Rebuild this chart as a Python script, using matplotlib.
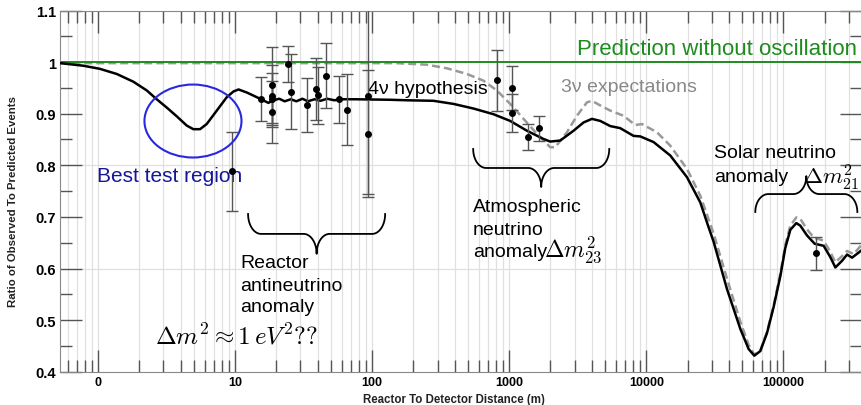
import numpy as np
import matplotlib
matplotlib.use("Agg")
import matplotlib.pyplot as plt
from matplotlib.patches import Ellipse
from matplotlib.lines import Line2D
from matplotlib.transforms import IdentityTransform
from matplotlib.ticker import LogLocator, MultipleLocator, NullFormatter

plt.rcParams['font.family'] = ['Liberation Sans', 'DejaVu Sans']
plt.rcParams['mathtext.fontset'] = 'cm'

# 4 neutrino hypothesis (distance in m, ratio observed/predicted)
dist_4nu = [0.53, 0.78, 1.03, 1.37, 1.81, 2.27, 2.68, 3.17, 3.75, 4.44,
            4.96, 5.55, 6.21, 7.35, 8.70, 9.72, 10.6, 12.2, 14.4, 16.0,
            17.5, 19.0, 21.0, 23.0, 25.5, 28.0, 31.0, 34.0, 38.0, 42.0,
            47.0, 53.0, 60.0, 75.0, 135, 180, 280, 392, 549, 768,
            1017, 1347, 1780, 1992, 2357, 2947, 3486, 4014, 4616, 5461,
            6457, 8075, 9040, 11310, 14970, 19820, 24790, 28490, 30990, 38830,
            48550, 55820, 61420, 67940, 76030, 84910, 95080, 103400, 112500, 124400,
            133100, 148900, 169300, 196900, 220300, 239700, 268300, 291700, 317400, 375400]
ratio_4nu = [0.998, 0.993, 0.987, 0.977, 0.962, 0.945, 0.928, 0.912, 0.895, 0.877,
             0.870, 0.870, 0.880, 0.906, 0.932, 0.943, 0.947, 0.941, 0.932, 0.926,
             0.921, 0.926, 0.929, 0.924, 0.928, 0.924, 0.929, 0.924, 0.928, 0.925,
             0.929, 0.926, 0.928, 0.928, 0.927, 0.926, 0.925, 0.919, 0.910, 0.899,
             0.886, 0.867, 0.851, 0.846, 0.848, 0.867, 0.883, 0.890, 0.886, 0.876,
             0.872, 0.857, 0.856, 0.845, 0.819, 0.777, 0.728, 0.680, 0.652, 0.560,
             0.483, 0.444, 0.431, 0.440, 0.475, 0.525, 0.585, 0.640, 0.675, 0.688,
             0.683, 0.664, 0.648, 0.644, 0.622, 0.602, 0.615, 0.627, 0.621, 0.636]

# 3 neutrino expectation
dist_3nu = [0.53, 150, 251, 351, 491, 649, 813, 1017, 1272, 1593,
            1992, 2167, 2638, 3121, 3692, 4014, 4616, 5461, 6829, 8312,
            9290, 11970, 14970, 19820, 24790, 30990, 38830, 48550, 55820, 61420,
            67940, 76030, 84910, 95080, 103400, 112500, 124400, 133100, 148900, 166400,
            196900, 220300, 239700, 268300, 291700, 326000, 375400]
ratio_3nu = [0.998, 0.998, 0.995, 0.988, 0.977, 0.964, 0.945, 0.919, 0.890, 0.861,
             0.835, 0.835, 0.864, 0.896, 0.922, 0.925, 0.916, 0.906, 0.896, 0.878,
             0.880, 0.864, 0.838, 0.793, 0.741, 0.668, 0.580, 0.497, 0.452, 0.433,
             0.441, 0.477, 0.528, 0.590, 0.646, 0.683, 0.699, 0.696, 0.676, 0.660,
             0.654, 0.632, 0.612, 0.624, 0.634, 0.628, 0.647]

# measurements
exp_dist = [9.5, 15.4, 18.5, 18.5, 18.5, 18.5, 24.5, 25.5, 33.4, 39.0, 40.5,
            45.9, 57.4, 65.4, 94.0, 94.0, 817, 1047, 1047, 1370, 1656, 174000]
exp_ratio = [0.788, 0.928, 0.956, 0.935, 0.928, 0.903, 0.996, 0.943, 0.917, 0.948, 0.936,
             0.974, 0.928, 0.908, 0.934, 0.861, 0.965, 0.950, 0.901, 0.855, 0.872, 0.630]
exp_err = [0.076, 0.043, 0.074, 0.060, 0.050, 0.060, 0.035, 0.073, 0.053, 0.060, 0.055,
           0.063, 0.046, 0.068, 0.190, 0.123, 0.059, 0.042, 0.037, 0.025, 0.024, 0.032]

xtick_pos = [1, 10, 100, 1000, 10000, 100000]
xtick_labels = ["0", "10", "100", "1000", "10000", "100000"]
ytick_pos = [0.4, 0.5, 0.6, 0.7, 0.8, 0.9, 1.0, 1.1]
ytick_labels = ["0.4", "0.5", "0.6", "0.7", "0.8", "0.9", "1", "1.1"]


def brace(ax, x0, x1, y_end, y_tip, rx=13):
    # curly brace drawn in pixel space between two data positions
    (X0, Ye), (X1, Yt) = ax.transData.transform([(x0, y_end), (x1, y_tip)])
    H = Yt - Ye
    Xm = (X0 + X1) / 2
    th = np.linspace(0, np.pi / 2, 30)
    xa = X0 + rx - rx * np.cos(th)
    ya = Ye + H / 2 * np.sin(th)
    xb = Xm - rx + rx * np.sin(th)
    yb = Ye + H - H / 2 * np.cos(th)
    xl = np.concatenate([xa, xb])
    yl = np.concatenate([ya, yb])
    xs = np.concatenate([xl, (X0 + X1 - xl)[::-1]])
    ys = np.concatenate([yl, yl[::-1]])
    ax.add_line(Line2D(xs, ys, transform=IdentityTransform(), color='black', lw=1.3))


fig = plt.figure(figsize=(8.62, 4.06), dpi=100)
ax = fig.add_axes([60 / 862, 33.3 / 406, 802 / 862, 361.2 / 406])
ax.set_xscale('log')
ax.set_xlim(0.528, 375000)
ax.set_ylim(0.4, 1.1)

ax.grid(True, axis='x', which='both', color='#e0e0e0', lw=0.9)
for yv in [0.6, 0.8]:
    ax.axhline(yv, color='#e0e0e0', lw=0.9, zorder=0.5)
ax.set_axisbelow(True)

ax.plot(dist_3nu, ratio_3nu, color='#999999', lw=1.8, dashes=(3.2, 1.6), zorder=2)
ax.axhline(1.0, color='#1e8b1e', lw=1.4, zorder=2.5)
ax.plot(dist_4nu, ratio_4nu, color='black', lw=1.8, zorder=3)
ax.errorbar(exp_dist, exp_ratio, yerr=exp_err, fmt='o', color='black', ms=4,
            ecolor='#555555', elinewidth=1, capsize=4.5, capthick=1, zorder=4)

ax.set_xticks(xtick_pos, xtick_labels, fontweight='bold', fontsize=9)
ax.xaxis.set_minor_locator(LogLocator(base=10, subs=np.arange(2, 10), numticks=30))
ax.xaxis.set_minor_formatter(NullFormatter())
ax.set_yticks(ytick_pos, ytick_labels, fontweight='bold', fontsize=10.5)
ax.yaxis.set_minor_locator(MultipleLocator(0.05))
ax.tick_params(axis='both', which='major', direction='in', length=16, width=1,
               color='#555555', top=True, right=True, pad=3)
ax.tick_params(axis='both', which='minor', direction='in', length=8.5, width=1,
               color='#555555', top=True, right=True)
for side in ['left', 'bottom', 'top']:
    ax.spines[side].set_color('#888888')
ax.spines['right'].set_visible(False)

fig.text(454 / 862, 6 / 406, 'Reactor To Detector Distance (m)', ha='center', va='center',
         fontsize=8.3, fontweight='bold', color='#222222')
fig.text(13 / 862, 0.5025, 'Ratio of Observed To Predicted Events', rotation=90,
         ha='center', va='center', fontsize=8.2, fontweight='bold', color='#222222')

# annotations
ax.text(346700, 1.0157, 'Prediction without oscillation', color='#1e8b1e',
        fontsize=16, ha='right', va='baseline')
ax.text(93.5, 0.940, '4ν hypothesis', fontsize=14, va='baseline')
ax.text(2397, 0.944, '3ν expectations', fontsize=14, color='#888888', va='baseline')
ax.text(0.983, 0.7696, 'Best test region', fontsize=15, color='#16169a', va='baseline')
ax.add_patch(Ellipse((0.1658, 0.694), 0.121, 0.202, transform=ax.transAxes,
                     fill=False, ec='#2828e0', lw=1.5, zorder=5))

for txt, yb in zip(['Reactor', 'antineutrino', 'anomaly'], [0.603, 0.559, 0.517]):
    ax.text(10.88, yb, txt, fontsize=14, va='baseline')
ax.text(2.61, 0.454, r'$\Delta m^2 \approx 1\,eV^2??$', fontsize=18, va='baseline')

for txt, yb in zip(['Atmospheric', 'neutrino', 'anomaly'], [0.712, 0.667, 0.624]):
    ax.text(546, yb, txt, fontsize=14, va='baseline')
ax.text(1800, 0.624, r'$\Delta m^2_{23}$', fontsize=17, va='baseline')

ax.text(31350, 0.816, 'Solar neutrino', fontsize=14, va='baseline')
ax.text(31350, 0.770, 'anomaly', fontsize=14, va='baseline')
ax.text(139000, 0.765, r'$\Delta m^2_{21}$', fontsize=16.5, va='baseline')

brace(ax, 12.44, 124.4, 0.7056, 0.6285)
brace(ax, 546, 5370, 0.8316, 0.758)
brace(ax, 62470, 346700, 0.7095, 0.779)

fig.savefig('out.png', dpi=100)
